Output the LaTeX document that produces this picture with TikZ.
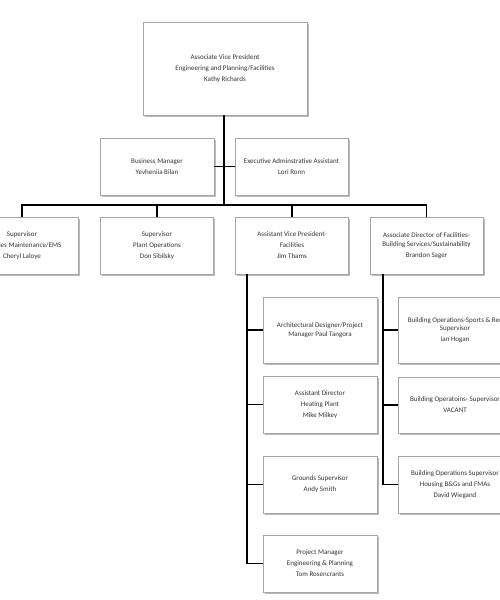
\documentclass[tikz,border=0pt]{standalone}
\usepackage{fontspec}
\setmainfont{Carlito}
\usetikzlibrary{shadows}
\begin{document}
\begin{tikzpicture}[x=1pt,y=-1pt,
  box/.style={draw=gray!70, line width=0.8pt, fill=white, align=center,
    inner sep=1pt, text=black!80, font=\fontsize{7}{11}\selectfont,
    drop shadow={shadow xshift=1.6pt, shadow yshift=-1.6pt, fill=gray!55, opacity=1}},
  link/.style={line width=1.8pt, black}]
\useasboundingbox (0,0) rectangle (500,600);
\clip (0,0) rectangle (500,600);
\node[box, minimum width=164pt, minimum height=93pt] (top) at (225,68.5)
  {Associate Vice President\\Engineering and Planning/Facilities\\Kathy Richards};
\node[box, minimum width=114pt, minimum height=57pt] (bm) at (157,166.5)
  {Business Manager\\Yevheniia Bilan};
\node[box, minimum width=113pt, minimum height=57pt] (ea) at (291.5,166.5)
  {Executive Adminstrative Assistant\\Lori Ronn};
\node[box, minimum width=113pt, minimum height=57pt] (s1) at (22,245.5)
  {Supervisor\\Facilities Maintenance/EMS\\Cheryl Laloye};
\node[box, minimum width=113pt, minimum height=57pt] (s2) at (157,245.5)
  {Supervisor\\Plant Operations\\Don Sibilsky};
\node[box, minimum width=113pt, minimum height=57pt] (avp) at (292,245.5)
  {Assistant Vice President-\\Facilities\\Jim Thams};
\node[box, minimum width=113pt, minimum height=57pt] (ad) at (426.5,245.5)
  {Associate Director of Facilities-\\[-2.5pt]Building Services/Sustainability\\Brandon Sager};
\node[box, minimum width=114pt, minimum height=66pt] (c1) at (320,330)
  {Architectural Designer/Project\\[-2.5pt]Manager Paul Tangora};
\node[box, minimum width=114pt, minimum height=57pt] (c2) at (320,404.5)
  {Assistant Director\\Heating Plant\\Mike Milkey};
\node[box, minimum width=114pt, minimum height=57pt] (c3) at (320,484.5)
  {Grounds Supervisor\\Andy Smith};
\node[box, minimum width=114pt, minimum height=57pt] (c4) at (320,563.5)
  {Project Manager\\Engineering \& Planning\\Tom Rosencrants};
\node[box, minimum width=114pt, minimum height=66pt] (r1) at (455,330)
  {Building Operations-Sports \& Rec\\[-2.5pt]Supervisor\\Ian Hogan};
\node[box, minimum width=114pt, minimum height=56pt] (r2) at (455,405)
  {Building Operatoins- Supervisor\\VACANT};
\node[box, minimum width=114pt, minimum height=57pt] (r3) at (455,484.5)
  {Building Operations Supervisor\\Housing B\&Gs and FMAs\\David Wiegand};
\coordinate (bar) at (224,205);
\coordinate (ax) at (247,0);
\coordinate (bx) at (383,0);
\draw[link] (top.south -| bar) -- (bar);
\draw[link] (bm.east) -- (ea.west);
\draw[link] (s1.north) |- (bar) -| (ad.north);
\draw[link] (s2.north) -- (s2.north |- bar);
\draw[link] (avp.north) -- (avp.north |- bar);
\draw[link] (avp.south -| ax) |- (c4.west);
\draw[link] (c1.west -| ax) -- (c1.west);
\draw[link] (c2.west -| ax) -- (c2.west);
\draw[link] (c3.west -| ax) -- (c3.west);
\draw[link] (ad.south -| bx) |- (r3.west);
\draw[link] (r1.west -| bx) -- (r1.west);
\draw[link] (r2.west -| bx) -- (r2.west);
\end{tikzpicture}
\end{document}
